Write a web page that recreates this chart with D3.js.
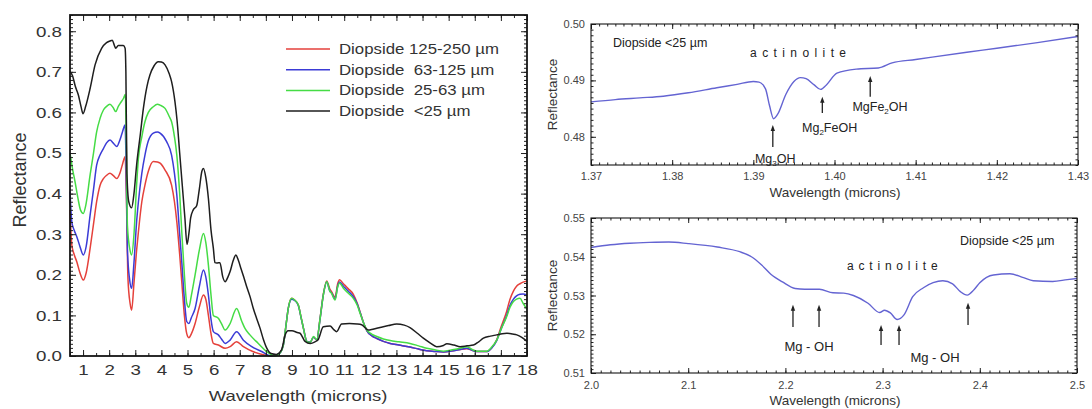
<!DOCTYPE html>
<html>
<head>
<meta charset="utf-8">
<script src="https://cdn.jsdelivr.net/npm/d3@7"></script>
<style>
  body { margin: 0; background: #fff; }
  text { font-family: "Liberation Sans", Arial, sans-serif; }
</style>
</head>
<body>
<svg id="chart" width="1092" height="409"></svg>
<script>
// ---------- left panel: diopside spectra, [wavelength, reflectance]
const red125 = [[0.5,0.36],[0.57,0.273],[0.66,0.25],[0.76,0.232],[0.88,0.205],[1.01,0.187],[1.12,0.205],[1.27,0.265],
  [1.4,0.325],[1.52,0.38],[1.65,0.42],[1.78,0.437],[1.9,0.445],[2.03,0.45],[2.15,0.445],[2.29,0.437],[2.41,0.45],
  [2.5,0.47],[2.61,0.491],[2.65,0.42],[2.72,0.19],[2.8,0.13],[2.86,0.113],[2.95,0.18],[3.05,0.26],[3.12,0.306],
  [3.25,0.38],[3.37,0.421],[3.5,0.455],[3.69,0.479],[3.85,0.478],[3.95,0.475],[4.14,0.458],[4.39,0.421],[4.5,0.38],
  [4.59,0.331],[4.7,0.25],[4.78,0.183],[4.88,0.10],[4.97,0.055],[5.05,0.045],[5.15,0.055],[5.29,0.08],[5.45,0.12],
  [5.61,0.15],[5.7,0.14],[5.8,0.10],[5.9,0.055],[5.99,0.031],[6.18,0.027],[6.44,0.019],[6.63,0.023],[6.88,0.035],
  [7.14,0.023],[7.5,0.011],[7.9,0.003],[8.3,0.0],[8.5,0.005],[8.67,0.028],[8.78,0.08],[8.86,0.118],[8.99,0.142],
  [9.1,0.138],[9.24,0.126],[9.35,0.095],[9.44,0.068],[9.57,0.036],[9.7,0.034],[9.82,0.046],[9.95,0.04],[10.07,0.09],
  [10.2,0.152],[10.33,0.185],[10.45,0.165],[10.52,0.158],[10.65,0.145],[10.75,0.178],[10.82,0.188],[10.97,0.178],
  [11.15,0.166],[11.35,0.152],[11.5,0.13],[11.61,0.108],[11.75,0.08],[11.87,0.062],[12.05,0.05],[12.25,0.043],
  [12.5,0.036],[12.76,0.031],[13.1,0.027],[13.52,0.022],[13.85,0.017],[14.16,0.013],[14.5,0.011],[14.8,0.01],
  [15.1,0.012],[15.44,0.016],[15.69,0.018],[15.9,0.014],[16.08,0.011],[16.46,0.011],[16.65,0.02],[16.84,0.04],
  [17.0,0.07],[17.22,0.11],[17.35,0.14],[17.48,0.16],[17.6,0.172],[17.73,0.178],[17.85,0.182],[18.0,0.185]];

const blue63 = [[0.5,0.405],[0.57,0.33],[0.66,0.31],[0.76,0.294],[0.88,0.27],[1.01,0.249],[1.12,0.27],[1.27,0.347],
  [1.4,0.41],[1.52,0.47],[1.65,0.495],[1.78,0.511],[1.9,0.525],[2.03,0.532],[2.15,0.525],[2.29,0.516],[2.41,0.532],
  [2.5,0.55],[2.61,0.569],[2.64,0.50],[2.7,0.26],[2.78,0.19],[2.86,0.167],[2.95,0.23],[3.05,0.33],[3.12,0.38],
  [3.25,0.45],[3.37,0.495],[3.5,0.53],[3.69,0.549],[3.85,0.552],[3.95,0.549],[4.2,0.528],[4.39,0.495],[4.5,0.45],
  [4.59,0.397],[4.7,0.30],[4.78,0.232],[4.88,0.14],[4.97,0.085],[5.05,0.08],[5.15,0.095],[5.29,0.117],[5.45,0.17],
  [5.61,0.212],[5.7,0.195],[5.8,0.15],[5.9,0.09],[5.99,0.06],[6.18,0.052],[6.3,0.042],[6.44,0.031],[6.63,0.039],
  [6.88,0.06],[7.14,0.039],[7.46,0.023],[7.84,0.011],[8.22,0.0],[8.5,0.005],[8.67,0.027],[8.78,0.08],[8.86,0.118],
  [8.99,0.14],[9.1,0.137],[9.24,0.125],[9.35,0.094],[9.44,0.068],[9.57,0.036],[9.7,0.034],[9.82,0.046],[9.95,0.04],
  [10.07,0.088],[10.2,0.15],[10.33,0.182],[10.45,0.16],[10.52,0.155],[10.65,0.14],[10.75,0.172],[10.82,0.182],
  [10.97,0.172],[11.15,0.16],[11.35,0.146],[11.5,0.128],[11.61,0.107],[11.75,0.08],[11.87,0.062],[12.05,0.05],
  [12.25,0.043],[12.5,0.036],[12.76,0.031],[13.1,0.027],[13.52,0.022],[13.85,0.017],[14.16,0.013],[14.5,0.011],
  [14.8,0.01],[15.1,0.012],[15.44,0.016],[15.69,0.019],[15.9,0.014],[16.08,0.011],[16.46,0.011],[16.65,0.02],
  [16.84,0.038],[17.0,0.065],[17.22,0.1],[17.35,0.125],[17.48,0.14],[17.6,0.148],[17.73,0.152],[17.85,0.153],[18.0,0.15]];

const green25 = [[0.5,0.50],[0.6,0.46],[0.69,0.43],[0.8,0.39],[0.9,0.36],[1.01,0.351],[1.1,0.37],[1.27,0.446],
  [1.4,0.50],[1.52,0.552],[1.65,0.585],[1.78,0.606],[1.9,0.615],[2.03,0.62],[2.15,0.612],[2.25,0.602],[2.35,0.615],
  [2.45,0.625],[2.55,0.635],[2.62,0.645],[2.65,0.55],[2.7,0.32],[2.8,0.26],[2.86,0.249],[2.95,0.30],[3.05,0.42],
  [3.12,0.487],[3.25,0.54],[3.37,0.577],[3.5,0.60],[3.69,0.614],[3.85,0.62],[3.95,0.618],[4.14,0.61],[4.3,0.59],
  [4.39,0.577],[4.5,0.54],[4.59,0.495],[4.7,0.40],[4.78,0.306],[4.88,0.20],[4.97,0.13],[5.05,0.12],[5.15,0.15],
  [5.29,0.20],[5.45,0.26],[5.61,0.302],[5.7,0.28],[5.8,0.224],[5.9,0.15],[5.99,0.10],[6.18,0.093],[6.3,0.08],
  [6.44,0.064],[6.63,0.08],[6.88,0.117],[7.08,0.085],[7.2,0.068],[7.39,0.052],[7.71,0.031],[8.03,0.011],[8.35,0.0],
  [8.55,0.008],[8.67,0.027],[8.78,0.08],[8.86,0.118],[8.99,0.142],[9.1,0.138],[9.24,0.126],[9.35,0.095],[9.44,0.068],
  [9.57,0.035],[9.7,0.033],[9.82,0.048],[9.95,0.04],[10.07,0.089],[10.2,0.15],[10.33,0.183],[10.45,0.16],[10.52,0.154],
  [10.65,0.138],[10.75,0.17],[10.82,0.18],[10.97,0.167],[11.15,0.155],[11.35,0.142],[11.5,0.125],[11.61,0.105],
  [11.75,0.08],[11.87,0.064],[12.05,0.054],[12.25,0.048],[12.5,0.042],[12.76,0.038],[13.1,0.035],[13.52,0.031],
  [13.85,0.025],[14.16,0.019],[14.5,0.015],[14.8,0.012],[15.1,0.015],[15.44,0.019],[15.69,0.023],[15.9,0.016],
  [16.08,0.012],[16.46,0.012],[16.65,0.022],[16.84,0.039],[17.0,0.065],[17.22,0.097],[17.35,0.12],[17.48,0.134],
  [17.6,0.14],[17.73,0.142],[17.85,0.13],[18.0,0.115]];

const black25 = [[0.5,0.70],[0.6,0.69],[0.7,0.665],[0.82,0.643],[0.92,0.615],[1.0,0.597],[1.1,0.615],[1.27,0.659],
  [1.46,0.717],[1.71,0.758],[1.9,0.772],[2.03,0.776],[2.12,0.778],[2.2,0.765],[2.25,0.758],[2.35,0.765],[2.54,0.765],
  [2.61,0.758],[2.64,0.70],[2.68,0.45],[2.75,0.38],[2.86,0.365],[2.95,0.40],[3.05,0.47],[3.2,0.55],[3.31,0.61],
  [3.45,0.665],[3.56,0.692],[3.72,0.715],[3.88,0.725],[4.0,0.724],[4.14,0.717],[4.3,0.695],[4.39,0.676],[4.52,0.626],
  [4.6,0.58],[4.7,0.50],[4.8,0.42],[4.9,0.34],[4.98,0.275],[5.05,0.30],[5.12,0.34],[5.22,0.36],[5.35,0.37],[5.45,0.41],
  [5.55,0.455],[5.61,0.462],[5.7,0.44],[5.8,0.388],[5.9,0.31],[5.99,0.265],[6.05,0.23],[6.12,0.229],[6.24,0.23],
  [6.35,0.195],[6.44,0.183],[6.55,0.195],[6.63,0.208],[6.75,0.235],[6.85,0.249],[6.95,0.235],[7.05,0.215],[7.15,0.195],
  [7.27,0.17],[7.4,0.145],[7.52,0.117],[7.65,0.092],[7.78,0.068],[7.9,0.042],[8.03,0.02],[8.2,0.006],[8.4,0.004],
  [8.6,0.015],[8.74,0.052],[8.85,0.062],[9.0,0.062],[9.2,0.058],[9.31,0.056],[9.5,0.036],[9.7,0.031],[9.88,0.035],
  [10.0,0.04],[10.2,0.072],[10.46,0.074],[10.6,0.065],[10.71,0.06],[10.9,0.079],[11.2,0.08],[11.5,0.079],[11.67,0.077],
  [11.92,0.064],[12.1,0.066],[12.37,0.07],[12.7,0.075],[13.01,0.079],[13.3,0.076],[13.52,0.07],[13.8,0.056],
  [14.03,0.044],[14.3,0.032],[14.54,0.023],[14.8,0.026],[14.93,0.03],[15.2,0.027],[15.44,0.023],[15.7,0.025],
  [15.95,0.027],[16.15,0.035],[16.33,0.044],[16.6,0.049],[16.84,0.052],[17.05,0.055],[17.23,0.056],[17.45,0.054],
  [17.61,0.052],[17.8,0.046],[18.0,0.036]];

const leftSeries = [red125, blue63, green25, black25];
const leftColors = ["#e5413b", "#3b3bd6", "#45dc45", "#1e1e1e"];
const legendLabels = ["Diopside 125-250 \u00b5m", "Diopside  63-125 \u00b5m", "Diopside  25-63 \u00b5m", "Diopside  <25 \u00b5m"];
const leftXTicks = d3.range(1, 19);
const leftYTicks = d3.range(0, 9).map(i => i / 10);

// ---------- right panels: <25 µm spectrum, zoomed
const band14 = [[1.37,0.4862],[1.373,0.4866],[1.376,0.4869],[1.3789,0.4872],[1.382,0.4878],[1.3855,0.4887],
  [1.388,0.4893],[1.390,0.4898],[1.3907,0.4897],[1.3915,0.4885],[1.392,0.4855],[1.3925,0.4832],[1.393,0.4840],
  [1.394,0.4875],[1.395,0.4898],[1.3958,0.4905],[1.3965,0.4903],[1.3975,0.4892],[1.3983,0.4884],[1.399,0.4892],
  [1.4003,0.4913],[1.4027,0.4920],[1.4054,0.4922],[1.4071,0.4931],[1.41,0.4937],[1.4163,0.4950],[1.42,0.4957],
  [1.425,0.4967],[1.43,0.4978]];
const band23 = [[2.0,0.5424],[2.02,0.5431],[2.04,0.5435],[2.06,0.5437],[2.08,0.5438],[2.10,0.5434],[2.13,0.5425],
  [2.153,0.5413],[2.165,0.5400],[2.175,0.5380],[2.185,0.5355],[2.197,0.5335],[2.21,0.5318],[2.22,0.5316],
  [2.235,0.5316],[2.249,0.5307],[2.26,0.5306],[2.27,0.5300],[2.285,0.5280],[2.297,0.5256],[2.302,0.5262],
  [2.308,0.5255],[2.315,0.5238],[2.322,0.5250],[2.331,0.5297],[2.342,0.5320],[2.352,0.5333],[2.362,0.5338],
  [2.372,0.5330],[2.38,0.5310],[2.387,0.5301],[2.394,0.5315],[2.4,0.5333],[2.414,0.5353],[2.431,0.5356],
  [2.445,0.5346],[2.455,0.5338],[2.475,0.5336],[2.49,0.5341],[2.5,0.5344]];

const topXTicks = d3.range(0, 7).map(i => 1.37 + i / 100);
const topYTicks = [0.48, 0.49, 0.50];
const botXTicks = d3.range(0, 6).map(i => 2.0 + i / 10);
const botYTicks = [0.51, 0.52, 0.53, 0.54, 0.55];

// arrows: wavelength, start and tip reflectance
const topArrows = [[1.3924, 0.4782, 0.4821], [1.3985, 0.4842, 0.4871], [1.4044, 0.4871, 0.4908]];
const topArrowLabels = [[1.3927, 0.4754, ["Mg", "3", "OH"]], [1.3994, 0.4809, ["Mg", "2", "FeOH"]], [1.4056, 0.4846, ["MgFe", "2", "OH"]]];
const botArrows = [[2.2078, 0.5219, 0.5276], [2.2346, 0.5219, 0.5276], [2.2984, 0.5172, 0.5224], [2.3169, 0.5172, 0.5224], [2.3879, 0.5224, 0.5281]];
const botArrowLabels = [[2.2243, 0.5157, "Mg - OH"], [2.3539, 0.5128, "Mg - OH"]];

const svg = d3.select("#chart");
const font = "Liberation Sans, Arial, sans-serif";

function drawFrame(g, x, y, xMaj, xMin, yMaj, yMin, majLen, minLen, sw) {
  const [xa, xb] = x.range(), [yb, ya] = y.range();
  const sides = [
    [d3.axisBottom, x, `translate(0,${yb})`, xMaj, xMin],
    [d3.axisTop, x, `translate(0,${ya})`, xMaj, xMin],
    [d3.axisLeft, y, `translate(${xa},0)`, yMaj, yMin],
    [d3.axisRight, y, `translate(${xb},0)`, yMaj, yMin]
  ];
  sides.forEach(([fn, sc, tr, maj, min]) => {
    [[min, minLen], [maj, majLen]].forEach(([vals, len]) => {
      const a = g.append("g").attr("transform", tr)
        .call(fn(sc).tickValues(vals).tickSize(-len).tickFormat(""));
      a.select(".domain").remove();
      a.selectAll("line").attr("stroke", "#222").attr("stroke-width", 1);
    });
  });
  g.append("rect").attr("x", xa).attr("y", ya).attr("width", xb - xa).attr("height", yb - ya)
    .attr("fill", "none").attr("stroke", "#151515").attr("stroke-width", sw);
}

// ================= left panel =================
const xL = d3.scaleLinear().domain([0.5, 18]).range([70, 527]);
const yL = d3.scaleLinear().domain([0, 0.84]).range([356, 15]);
const gL = svg.append("g");

const lineL = d3.line().x(d => xL(d[0])).y(d => yL(d[1])).curve(d3.curveMonotoneX);
gL.selectAll(".spec").data(leftSeries).join("path")
  .attr("class", "spec")
  .attr("d", lineL)
  .attr("fill", "none")
  .attr("stroke", (d, i) => leftColors[i])
  .attr("stroke-width", 1.5);

drawFrame(gL, xL, yL, leftXTicks, d3.range(0, 36).map(i => 0.5 + i / 2),
  leftYTicks, d3.range(0, 85).map(i => i / 100), 6, 3, 1.8);

const xLab = gL.append("g").attr("transform", `translate(0,${yL.range()[0]})`)
  .call(d3.axisBottom(xL).tickValues(leftXTicks).tickSize(0).tickFormat(d3.format("d")))
  .attr("font-size", 15).attr("font-family", font);
xLab.select(".domain").remove();
xLab.selectAll("text").attr("y", 19).attr("dy", null).attr("fill", "#333").attr("transform", "scale(1.25,1)");

const yLab = gL.append("g").attr("transform", `translate(${xL.range()[0]},0)`)
  .call(d3.axisLeft(yL).tickValues(leftYTicks).tickSize(0).tickFormat(d3.format(".1f")))
  .attr("font-size", 15).attr("font-family", font);
yLab.select(".domain").remove();
yLab.selectAll("text").attr("x", 0).attr("fill", "#333").attr("transform", "translate(-8,0) scale(1.25,1)");

gL.append("text").attr("transform", "translate(298,401) scale(1.23,1)")
  .attr("text-anchor", "middle").attr("font-size", 15).attr("fill", "#333")
  .text("Wavelength (microns)");
gL.append("text").attr("transform", "translate(26,180) rotate(-90)")
  .attr("text-anchor", "middle").attr("font-size", 18).attr("fill", "#333")
  .text("Reflectance");

const leg = gL.append("g");
legendLabels.forEach((lab, i) => {
  const ry = 49 + i * 20.7;
  leg.append("line").attr("x1", 286).attr("x2", 330).attr("y1", ry).attr("y2", ry)
    .attr("stroke", leftColors[i]).attr("stroke-width", 1.5);
  leg.append("text").attr("transform", `translate(339,${ry + 5}) scale(1.2,1)`)
    .attr("font-size", 14).attr("fill", "#333").style("white-space", "pre").text(lab);
});

// ================= right panels =================
function rightPanel(data, x, y, xMaj, xMin, yMaj, yMin, xFmt, yFmt, xLabOff, xTitleY) {
  const g = svg.append("g");
  g.append("path").datum(data)
    .attr("d", d3.line().x(d => x(d[0])).y(d => y(d[1])).curve(d3.curveMonotoneX))
    .attr("fill", "none").attr("stroke", "#6464d2").attr("stroke-width", 1.4);
  drawFrame(g, x, y, xMaj, xMin, yMaj, yMin, 5, 2.5, 1.1);

  const xa = g.append("g").attr("transform", `translate(0,${y.range()[0]})`)
    .call(d3.axisBottom(x).tickValues(xMaj).tickSize(0).tickFormat(d3.format(xFmt)))
    .attr("font-size", 11).attr("font-family", font);
  xa.select(".domain").remove();
  xa.selectAll("text").attr("y", xLabOff).attr("dy", null).attr("fill", "#444");

  const ya = g.append("g").attr("transform", `translate(${x.range()[0]},0)`)
    .call(d3.axisLeft(y).tickValues(yMaj).tickSize(0).tickFormat(d3.format(yFmt)))
    .attr("font-size", 11).attr("font-family", font);
  ya.select(".domain").remove();
  ya.selectAll("text").attr("x", -6).attr("fill", "#444");

  const cy = (y.range()[0] + y.range()[1]) / 2;
  g.append("text").attr("transform", `translate(557,${cy}) rotate(-90)`)
    .attr("text-anchor", "middle").attr("font-size", 13.5).attr("fill", "#333").text("Reflectance");
  g.append("text").attr("x", 835).attr("y", xTitleY)
    .attr("text-anchor", "middle").attr("font-size", 13.5).attr("fill", "#333").text("Wavelength (microns)");
  return g;
}

function drawArrows(g, x, y, arrows) {
  arrows.forEach(([w, v0, v1]) => {
    const px = x(w), p0 = y(v0), p1 = y(v1);
    g.append("line").attr("x1", px).attr("x2", px).attr("y1", p0).attr("y2", p1 + 4)
      .attr("stroke", "#222").attr("stroke-width", 1.3);
    g.append("path").attr("d", `M${px},${p1}L${px - 2.2},${p1 + 6}L${px + 2.2},${p1 + 6}Z`).attr("fill", "#222");
  });
}

// top: 1.4 µm region
const xT = d3.scaleLinear().domain([1.37, 1.43]).range([591, 1078]);
const yT = d3.scaleLinear().domain([0.475, 0.50]).range([165, 24]);
const gT = rightPanel(band14, xT, yT, topXTicks, d3.range(0, 61).map(i => 1.37 + i / 1000),
  topYTicks, d3.range(0, 26).map(i => 0.475 + i / 1000), ".2f", ".2f", 15, 197);
drawArrows(gT, xT, yT, topArrows);
topArrowLabels.forEach(([w, v, parts]) => {
  const t = gT.append("text").attr("x", xT(w)).attr("y", yT(v)).attr("text-anchor", "middle")
    .attr("font-size", 12.5).attr("fill", "#222");
  t.append("tspan").text(parts[0]);
  t.append("tspan").attr("font-size", 8).attr("dy", 3).text(parts[1]);
  t.append("tspan").attr("dy", -3).text(parts[2]);
});
gT.append("text").attr("x", xT(1.3727)).attr("y", yT(0.4959)).attr("font-size", 12.5).attr("fill", "#222")
  .text("Diopside <25 \u00b5m");
gT.append("text").attr("x", xT(1.3896)).attr("y", yT(0.49415)).attr("font-size", 12).attr("fill", "#222")
  .attr("letter-spacing", 5.4).text("actinolite");

// bottom: 2.3 µm region
const xB = d3.scaleLinear().domain([2.0, 2.5]).range([591, 1077]);
const yB = d3.scaleLinear().domain([0.51, 0.55]).range([373, 218]);
const gB = rightPanel(band23, xB, yB, botXTicks, d3.range(0, 51).map(i => 2.0 + i / 100),
  botYTicks, d3.range(0, 41).map(i => 0.51 + i / 1000), ".1f", ".2f", 16, 405);
drawArrows(gB, xB, yB, botArrows);
botArrowLabels.forEach(([w, v, s]) => {
  gB.append("text").attr("x", xB(w)).attr("y", yB(v)).attr("text-anchor", "middle")
    .attr("font-size", 13).attr("fill", "#222").text(s);
});
gB.append("text").attr("x", xB(2.3796)).attr("y", yB(0.54303)).attr("font-size", 12.5).attr("fill", "#222")
  .text("Diopside <25 \u00b5m");
gB.append("text").attr("x", xB(2.2634)).attr("y", yB(0.53658)).attr("font-size", 12).attr("fill", "#222")
  .attr("letter-spacing", 4.8).text("actinolite");
</script>
</body>
</html>
